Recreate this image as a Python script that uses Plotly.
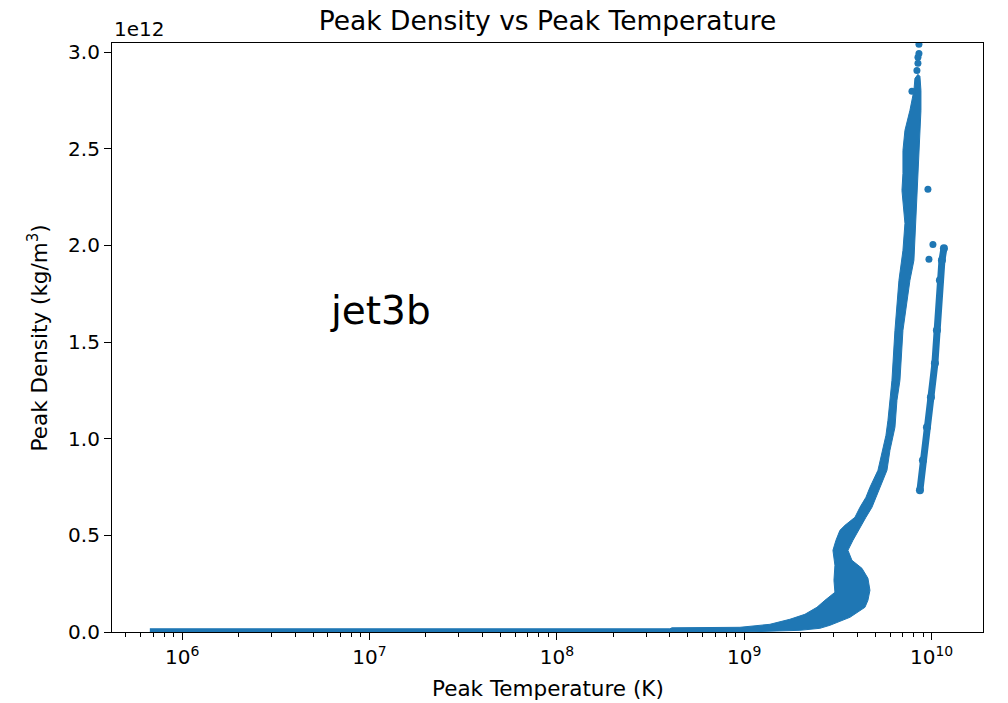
import numpy as np
import plotly.graph_objects as go

BLUE = "#1f77b4"
DENSITY_UNIT = 1e12  # densities below are listed in units of 1e12 kg/m^3

# Envelope of the main run (peak temperature in K, peak density in 1e12 kg/m^3)
main_temp = [6.72e5, 4.01e8, 4.11e8, 9.48e8, 1.37e9, 1.75e9, 2.107e9, 2.442e9, 2.695e9,
             3.047e9, 3.010e9, 3.047e9, 2.973e9, 3.085e9, 3.240e9, 3.446e9, 3.896e9,
             4.143e9, 4.460e9, 4.685e9, 5.170e9, 5.497e9, 5.704e9, 5.846e9, 6.140e9,
             6.370e9, 6.692e9, 7.029e9, 7.204e9, 6.943e9, 7.029e9, 7.029e9, 7.204e9,
             7.659e9, 8.044e9, 8.144e9, 8.451e9, 8.660e9, 8.769e9, 8.769e9, 8.660e9,
             8.451e9, 8.245e9, 8.144e9, 8.044e9, 7.659e9, 7.029e9, 6.775e9, 6.529e9,
             6.370e9, 5.991e9, 5.775e9, 5.297e9, 4.802e9, 4.460e9, 4.143e9, 3.802e9,
             3.575e9, 3.755e9, 4.246e9, 4.571e9, 4.685e9, 4.571e9, 4.406e9, 4.042e9,
             3.664e9, 3.240e9, 2.866e9, 2.534e9, 1.982e9, 1.008e9, 6.72e5]
main_dens = [0.0166, 0.0166, 0.0217, 0.0243, 0.0398, 0.0657, 0.0916, 0.1278, 0.1640,
             0.2053, 0.2674, 0.3450, 0.4226, 0.4743, 0.5260, 0.5519, 0.5933, 0.6450,
             0.6967, 0.7485, 0.8364, 0.9398, 1.0174, 1.0950, 1.3019, 1.5605, 1.8192,
             1.9743, 2.1140, 2.2847, 2.3726, 2.4916, 2.5950, 2.6985, 2.8019, 2.8640,
             2.8847, 2.8744, 2.8019, 2.6985, 2.5950, 2.3726, 2.1140, 2.0261, 1.9226,
             1.8192, 1.5605, 1.3019, 1.1985, 1.0588, 0.9398, 0.8364, 0.7485, 0.6450,
             0.5933, 0.5416, 0.4743, 0.4226, 0.3709, 0.3295, 0.2778, 0.2157, 0.1640,
             0.1278, 0.1019, 0.0760, 0.0553, 0.0347, 0.0191, 0.0088, 0.0, 0.0]

# Sparse samples at the top of the main run
top_temp = [8.555e9, 8.555e9, 8.451e9, 8.451e9, 8.346e9, 7.850e9]
top_dens = [3.040, 2.993, 2.973, 2.942, 2.905, 2.797]

# Second, hotter branch
branch_temp = [8.660e9, 8.986e9, 9.439e9, 9.913e9, 1.041e10, 1.067e10, 1.107e10,
               1.135e10, 1.163e10]
branch_dens = [0.7329, 0.8881, 1.0588, 1.2140, 1.3899, 1.5605, 1.8192, 1.9226, 1.9847]

# Isolated samples between the two branches
stray_temp = [9.555e9, 1.016e10, 9.674e9]
stray_dens = [2.290, 2.005, 1.928]

x_major = [1e6, 1e7, 1e8, 1e9, 1e10]
x_major_text = ["10<sup>6</sup>", "10<sup>7</sup>", "10<sup>8</sup>",
                "10<sup>9</sup>", "10<sup>10</sup>"]
y_major = [0.0, 0.5, 1.0, 1.5, 2.0, 2.5, 3.0]
y_major_text = ["0.0", "0.5", "1.0", "1.5", "2.0", "2.5", "3.0"]

x_minor = [m * 10.0 ** k for k in range(5, 11) for m in range(2, 10)]


def scaled(values):
    return np.asarray(values) * DENSITY_UNIT


fig = go.Figure()

fig.add_trace(go.Scatter(
    x=main_temp, y=scaled(main_dens), mode="lines", fill="toself",
    fillcolor=BLUE, line=dict(color=BLUE, width=1), hoverinfo="skip",
    showlegend=False))

fig.add_trace(go.Scatter(
    x=top_temp, y=scaled(top_dens), mode="markers",
    marker=dict(color=BLUE, size=7), showlegend=False))

fig.add_trace(go.Scatter(
    x=branch_temp, y=scaled(branch_dens), mode="lines+markers",
    line=dict(color=BLUE, width=7), marker=dict(color=BLUE, size=8),
    showlegend=False))

fig.add_trace(go.Scatter(
    x=stray_temp, y=scaled(stray_dens), mode="markers",
    marker=dict(color=BLUE, size=7), showlegend=False))

font = "DejaVu Sans"
tick_size = 20
label_size = 21.5
axis_common = dict(
    showline=True, mirror=True, linecolor="black", linewidth=1.2,
    ticks="outside", ticklen=7, tickwidth=1.2, tickcolor="black",
    showgrid=False, zeroline=False,
    tickfont=dict(family=font, size=tick_size, color="black"),
)

fig.update_xaxes(
    type="log", range=[np.log10(4.22e5), np.log10(1.88e10)],
    tickmode="array", tickvals=x_major, ticktext=x_major_text,
    minor=dict(tickmode="array", tickvals=x_minor, ticks="outside",
               ticklen=4, tickwidth=1, tickcolor="black"),
    **axis_common)

fig.update_yaxes(
    range=[0, 3.047 * DENSITY_UNIT],
    tickmode="array", tickvals=scaled(y_major), ticktext=y_major_text,
    **axis_common)

fig.update_layout(
    width=1008, height=703,
    margin=dict(l=112, r=25, t=43, b=71),
    paper_bgcolor="white", plot_bgcolor="white",
    font=dict(family=font, color="black"),
    title=dict(text="Peak Density vs Peak Temperature",
               x=0.5, xref="paper", xanchor="center",
               y=1 - 21 / 703, yref="container", yanchor="middle",
               font=dict(family=font, size=26.5, color="black")),
    annotations=[
        dict(text="1e12", xref="paper", yref="paper", x=0, y=1,
             xanchor="left", yanchor="bottom", showarrow=False,
             font=dict(family=font, size=tick_size, color="black")),
        dict(text="Peak Temperature (K)", xref="paper", yref="paper",
             x=0.5, y=-0.0956, xanchor="center", yanchor="middle",
             showarrow=False, font=dict(family=font, size=label_size, color="black")),
        dict(text="Peak Density (kg/m<sup>3</sup>)", xref="paper", yref="paper",
             x=-0.085, y=0.5, xanchor="center", yanchor="middle", textangle=-90,
             showarrow=False, font=dict(family=font, size=label_size, color="black")),
        dict(text="jet3b", xref="x", yref="y", x=np.log10(6.0e6),
             y=1.664 * DENSITY_UNIT, xanchor="left", yanchor="middle",
             showarrow=False, font=dict(family=font, size=39, color="black")),
    ],
)

fig.write_html("out.html")
